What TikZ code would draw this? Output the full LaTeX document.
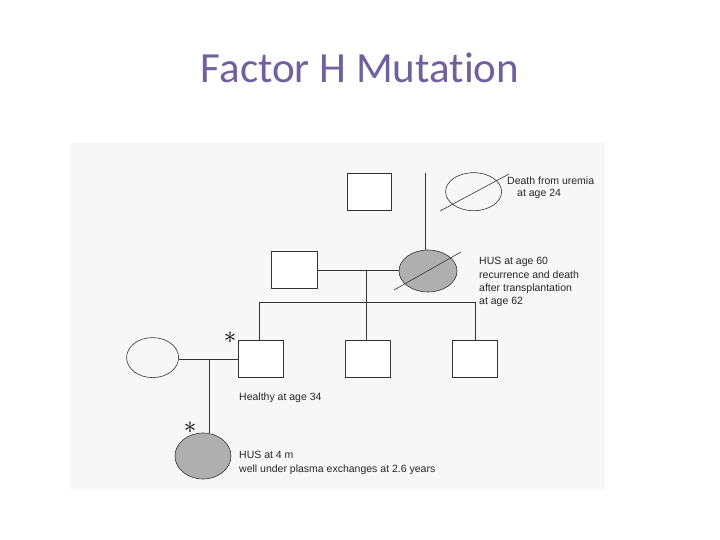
\documentclass[tikz,border=0pt]{standalone}
\usepackage{fontspec}
\setmainfont{Liberation Sans}
\newfontfamily\titlefont[Ligatures=NoCommon]{Carlito}
\newfontfamily\astfont{DejaVu Sans}
\definecolor{titlecol}{RGB}{112,96,160}
\definecolor{scan}{RGB}{246,247,246}
\definecolor{shade}{RGB}{175,175,175}
\begin{document}
\begin{tikzpicture}[x=1pt,y=-1pt,
  ln/.style={draw=black!80,line width=0.6pt},
  sq/.style={ln,fill=white},
  ast/.style={font=\astfont\fontsize{22}{22}\selectfont\ensuremath{\ast},inner sep=0pt},
  lab/.style={font=\fontsize{10.5}{12}\selectfont,anchor=west,inner sep=0pt,text=black!85,align=left}]
\useasboundingbox (0,0) rectangle (720,540);
\fill[white] (0,0) rectangle (720,540);
\fill[scan] (70,143) rectangle (605,490);
\node[font=\titlefont\fontsize{43}{48}\selectfont,text=titlecol] (title) at (360,68) {Factor H Mutation};
% generation I
\draw[sq] (347,173) rectangle (391,210);
\draw[ln] (425,173) -- (425,250);
\draw[ln] (473.6,191.7) ellipse [x radius=28, y radius=19];
\draw[ln] (440,211) -- (509,174);
\node[lab] (t1) at (507,181) {Death from uremia};
\node[lab] (t2) at (517,194) {at age 24};
% generation II
\draw[sq] (271,251) rectangle (317,288);
\draw[ln] (317,270) -- (399,270);
\draw[ln] (366,270) -- (366,302);
\draw[ln,fill=shade] (428,271) ellipse [x radius=29, y radius=21];
\draw[ln] (394,290) -- (461,252);
\node[lab] (t3) at (479,262) {HUS at age 60};
\node[lab] (t4) at (479,275) {recurrence and death};
\node[lab] (t5) at (479,289) {after transplantation};
\node[lab] (t6) at (479,302) {at age 62};
% generation III
\draw[ln] (259,340) -- (259,302) -- (475,302) -- (475,340);
\draw[ln] (366,302) -- (366,340);
\draw[sq] (238,340) rectangle (283,377);
\draw[sq] (345,340) rectangle (390,377);
\draw[sq] (452,340) rectangle (497,377);
\node[font=\fontsize{26}{26}\selectfont] (a1) at (230,338) {$\ast$};
\draw[ln] (152.6,357.6) ellipse [x radius=26, y radius=20];
\draw[ln] (178.6,359) -- (238,359);
\draw[ln] (209,359) -- (209,433);
\node[lab] (t7) at (239,398) {Healthy at age 34};
% generation IV
\draw[ln,fill=shade] (203,456) ellipse [x radius=28, y radius=23];
\node[font=\fontsize{26}{26}\selectfont] (a2) at (190,428) {$\ast$};
\node[lab] (t8) at (239,455) {HUS at 4 m};
\node[lab] (t9) at (239,470) {well under plasma exchanges at 2.6 years};
\end{tikzpicture}
\end{document}
